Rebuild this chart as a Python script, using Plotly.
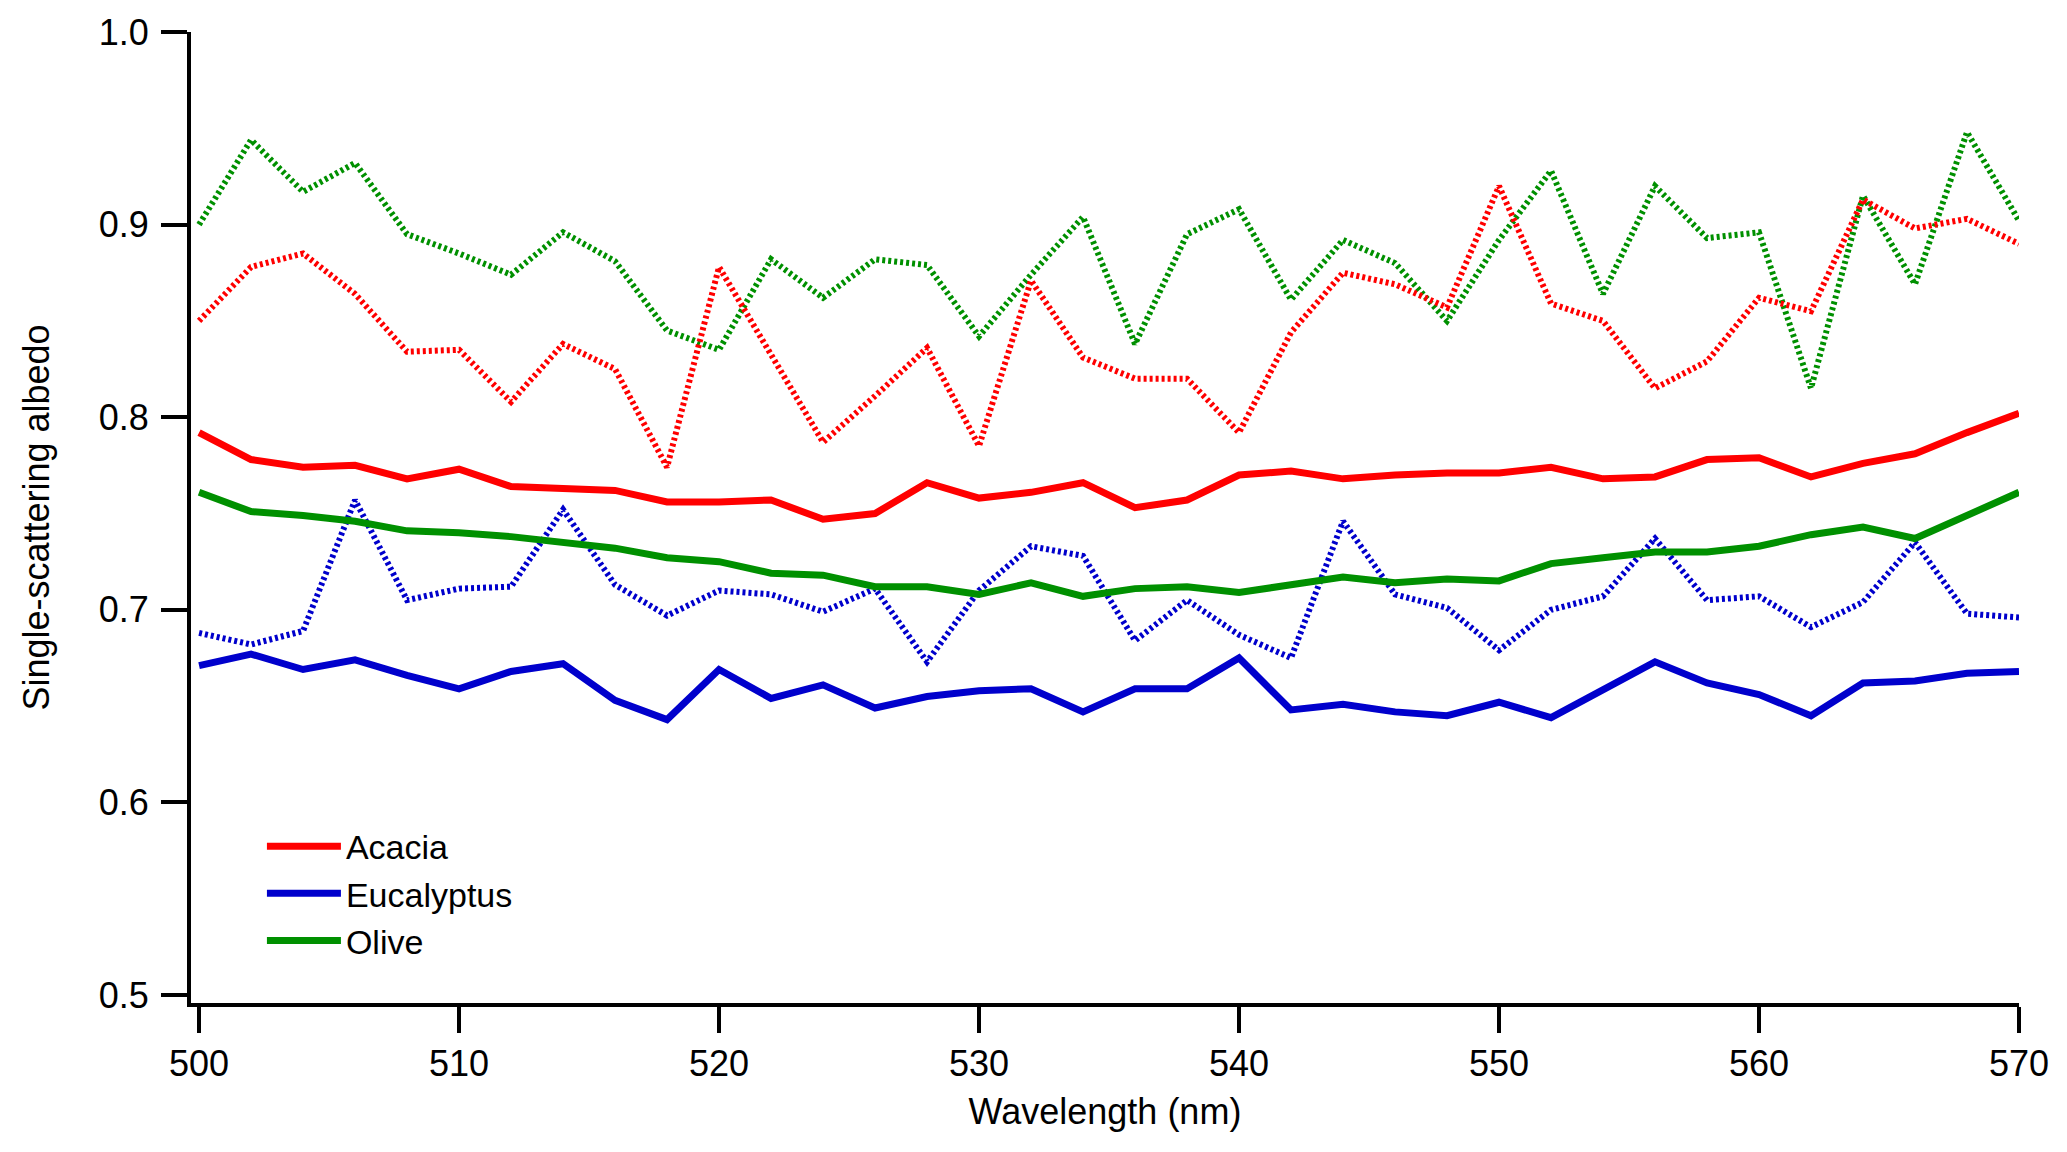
import plotly.graph_objects as go

wavelength = [500, 502, 504, 506, 508, 510, 512, 514, 516, 518, 520, 522, 524, 526, 528, 530, 532, 534,
              536, 538, 540, 542, 544, 546, 548, 550, 552, 554, 556, 558, 560, 562, 564, 566, 568, 570]

acacia_solid = [0.792, 0.778, 0.774, 0.775, 0.768, 0.773, 0.764, 0.763, 0.762, 0.756, 0.756, 0.757,
                0.747, 0.750, 0.766, 0.758, 0.761, 0.766, 0.753, 0.757, 0.770, 0.772, 0.768, 0.770,
                0.771, 0.771, 0.774, 0.768, 0.769, 0.778, 0.779, 0.769, 0.776, 0.781, 0.792, 0.802]
acacia_dotted = [0.850, 0.878, 0.885, 0.864, 0.834, 0.835, 0.808, 0.838, 0.825, 0.774, 0.878, 0.833,
                 0.787, 0.811, 0.836, 0.785, 0.871, 0.831, 0.820, 0.820, 0.792, 0.844, 0.875, 0.869,
                 0.857, 0.920, 0.859, 0.850, 0.815, 0.829, 0.862, 0.855, 0.913, 0.898, 0.903, 0.890]
olive_solid = [0.761, 0.751, 0.749, 0.746, 0.741, 0.740, 0.738, 0.735, 0.732, 0.727, 0.725, 0.719,
               0.718, 0.712, 0.712, 0.708, 0.714, 0.707, 0.711, 0.712, 0.709, 0.713, 0.717, 0.714,
               0.716, 0.715, 0.724, 0.727, 0.730, 0.730, 0.733, 0.739, 0.743, 0.737, 0.749, 0.761]
olive_dotted = [0.900, 0.944, 0.917, 0.932, 0.895, 0.885, 0.874, 0.896, 0.881, 0.845, 0.835, 0.882,
                0.862, 0.882, 0.879, 0.842, 0.874, 0.904, 0.838, 0.895, 0.908, 0.861, 0.892, 0.880,
                0.850, 0.892, 0.928, 0.864, 0.920, 0.893, 0.896, 0.815, 0.915, 0.869, 0.948, 0.902]
eucalyptus_solid = [0.671, 0.677, 0.669, 0.674, 0.666, 0.659, 0.668, 0.672, 0.653, 0.643, 0.669, 0.654,
                    0.661, 0.649, 0.655, 0.658, 0.659, 0.647, 0.659, 0.659, 0.675, 0.648, 0.651, 0.647,
                    0.645, 0.652, 0.644, 0.658, 0.673, 0.662, 0.656, 0.645, 0.662, 0.663, 0.667, 0.668]
eucalyptus_dotted = [0.688, 0.682, 0.689, 0.757, 0.705, 0.711, 0.712, 0.752, 0.713, 0.697, 0.710, 0.708,
                     0.699, 0.711, 0.673, 0.710, 0.733, 0.728, 0.684, 0.705, 0.687, 0.675, 0.746, 0.708,
                     0.701, 0.679, 0.700, 0.707, 0.737, 0.705, 0.707, 0.691, 0.704, 0.735, 0.698, 0.696]

x_ticks = [500, 510, 520, 530, 540, 550, 560, 570]
y_ticks = [0.5, 0.6, 0.7, 0.8, 0.9, 1.0]
y_tick_labels = ["0.5", "0.6", "0.7", "0.8", "0.9", "1.0"]

RED = "#FF0000"
BLUE = "#0000CC"
GREEN = "#009000"
FONT = "Arial, Liberation Sans, sans-serif"

fig = go.Figure()

# dotted series (not in legend)
for ys, col in [(olive_dotted, GREEN), (acacia_dotted, RED), (eucalyptus_dotted, BLUE)]:
    fig.add_trace(go.Scatter(x=wavelength, y=ys, mode="lines", showlegend=False,
                             line=dict(color=col, width=6, dash="3px,3px")))

# solid series
for ys, col, name in [(acacia_solid, RED, "Acacia"), (eucalyptus_solid, BLUE, "Eucalyptus"),
                      (olive_solid, GREEN, "Olive")]:
    fig.add_trace(go.Scatter(x=wavelength, y=ys, mode="lines", name=name,
                             line=dict(color=col, width=7)))

axis_common = dict(showgrid=False, zeroline=False, showline=True, linecolor="black", linewidth=4,
                   ticks="outside", ticklen=26, tickwidth=4, tickcolor="black",
                   tickfont=dict(family=FONT, size=36, color="black"))

fig.update_xaxes(range=[499.69, 570], tickvals=x_ticks,
                 title=dict(text="Wavelength (nm)", font=dict(family=FONT, size=36, color="black"),
                            standoff=17),
                 ticklabelstandoff=0, **axis_common)
fig.update_yaxes(range=[0.49585, 1.0], tickvals=y_ticks, ticktext=y_tick_labels,
                 title=dict(text="Single-scattering albedo", font=dict(family=FONT, size=36, color="black"),
                            standoff=39),
                 ticklabelstandoff=5, **axis_common)

fig.update_layout(
    width=2067, height=1152,
    margin=dict(l=191, r=48, t=30, b=149),
    paper_bgcolor="white", plot_bgcolor="white",
    font=dict(family=FONT, size=36, color="black"),
    showlegend=True,
    legend=dict(x=0.0388, y=0.191, xanchor="left", yanchor="top", bgcolor="rgba(0,0,0,0)",
                font=dict(family=FONT, size=34, color="black"), itemwidth=74, tracegroupgap=0),
)

fig.write_html("out.html", config={"displayModeBar": False},
               post_script="document.body.style.margin='0';document.body.style.overflow='hidden';")
